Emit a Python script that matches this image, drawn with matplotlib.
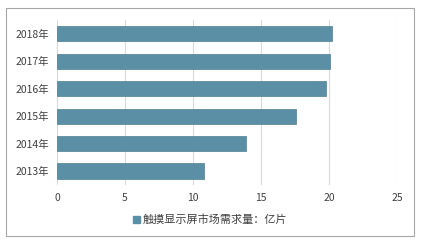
import matplotlib
matplotlib.use("Agg")
import matplotlib.pyplot as plt
from matplotlib.patches import Rectangle, Patch

plt.rcParams['font.family'] = ['Noto Sans CJK SC', 'DejaVu Sans']

# data
years = ["2013年", "2014年", "2015年", "2016年", "2017年", "2018年"]
demand = [10.8, 13.9, 17.6, 19.75, 20.05, 20.25]
series_name = "触摸显示屏市场需求量：亿片"
xticks = [0, 5, 10, 15, 20, 25]

bar_color = '#5B8FA5'

fig = plt.figure(figsize=(4.23, 2.47), dpi=100)
ax = fig.add_axes([0.1348, 0.252, 0.8037, 0.667])

ax.barh(range(len(years)), demand, height=0.55, color=bar_color,
        edgecolor='#4F7F94', linewidth=0.5, zorder=3)
ax.set_yticks(range(len(years)))
ax.set_yticklabels(years, fontsize=7.5, color='#404040')
ax.set_ylim(-0.5, len(years) - 0.5)
ax.set_xlim(0, 25)
ax.set_xticks(xticks)
ax.set_xticklabels([str(t) for t in xticks], fontsize=7.5, color='#404040')
ax.tick_params(axis='both', length=0, pad=6)
ax.xaxis.grid(True, color='#D9D9D9', linewidth=0.8, zorder=0)
for s in ax.spines.values():
    s.set_visible(False)

handle = Patch(facecolor=bar_color, edgecolor=bar_color)
fig.legend([handle], [series_name], loc='center', bbox_to_anchor=(0.497, 0.11),
           frameon=False, fontsize=8, handlelength=0.6, handleheight=0.6,
           handletextpad=0.3, labelcolor='#404040')

# outer frame
fig.patches.append(Rectangle((6 / 423, 1 - 236 / 247), 408 / 423, 228 / 247,
                             transform=fig.transFigure, fill=False,
                             edgecolor='#A6A6A6', linewidth=0.8))

fig.savefig("out.png", dpi=100)
